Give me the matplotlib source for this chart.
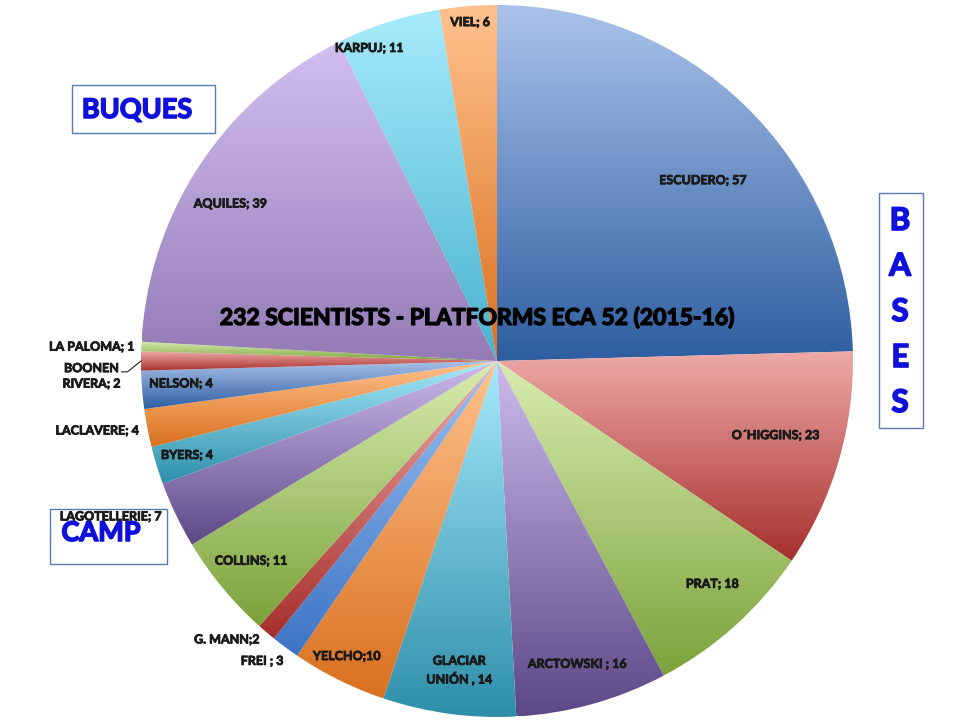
import numpy as np
import matplotlib
matplotlib.use("Agg")
import matplotlib.pyplot as plt
import matplotlib.patheffects as pe
from matplotlib.colors import LinearSegmentedColormap
from matplotlib.patches import Rectangle

plt.rcParams['font.family'] = ['Lato', 'DejaVu Sans']

# data, clockwise from 12 o'clock
platforms = ['ESCUDERO', 'O\u00b4HIGGINS', 'PRAT', 'ARCTOWSKI ', 'GLACIAR\nUNI\u00d3N ', 'YELCHO',
             'FREI ', 'G. MANN', 'COLLINS', 'LAGOTELLERIE', 'BYERS', 'LACLAVERE',
             'NELSON', 'BOONEN\nRIVERA', 'LA PALOMA', 'AQUILES', 'KARPUJ', 'VIEL']
scientists = [57, 23, 18, 16, 14, 10, 3, 2, 11, 7, 4, 4, 4, 2, 1, 39, 11, 6]
separators = ['; ', '; ', '; ', '; ', ', ', ';', '; ', ';', '; ', '; ', '; ', '; ',
              '; ', '; ', '; ', '; ', '; ', '; ']
title = '232 SCIENTISTS - PLATFORMS ECA 52 (2015-16)'

# label placement: (radius fraction, angle shift in degrees)
label_r = [0.77, 0.81, 0.87, 0.88, 0.875, 0.93, 1.07, 1.09, 0.89, 1.17, 0.91, 1.14,
           0.89, 1.14, 1.14, 0.87, 0.95, 0.955]
label_shift = [-4.5, 1.4, 2.1, -0.7, 0.8, -0.6, -1.6, -3.8, -0.5, -3.7, -0.2, -1.0,
               -0.6, 2.1, 0.3, 2.8, 4.4, -0.1]

# office palette as (light top, dark bottom) gradient pairs
palette = [('#A9C2EA', '#2E5EA0'),   # blue
           ('#EEAAA8', '#A62F2C'),   # red
           ('#D8ECB0', '#7BA23A'),   # green
           ('#CDBBEC', '#5D4887'),   # purple
           ('#A6E9FB', '#2E8EAA'),   # aqua
           ('#FFC28E', '#D9701E')]   # orange
slice_colors = [palette[i % 6] for i in range(len(scientists))]
slice_colors[platforms.index('AQUILES')] = ('#D2BEF0', '#947BB6')
slice_colors[platforms.index('KARPUJ')] = ('#A6EBFC', '#4AB2CE')
slice_colors[platforms.index('FREI ')] = ('#9CC0F2', '#3C74C4')

W, H = 960, 720
cx, cy, R = 497, H - 361, 356


def bold(lw, color):
    return [pe.withStroke(linewidth=lw, foreground=color)]


fig = plt.figure(figsize=(9.6, 7.2), dpi=100)
ax = fig.add_axes([0, 0, 1, 1])

wedges, _ = ax.pie(scientists, startangle=90, counterclock=False,
                   center=(cx, cy), radius=R, frame=True)

grad = np.linspace(0, 1, 256).reshape(-1, 1)
for i, w in enumerate(wedges):
    light, dark = slice_colors[i]
    verts = w.get_path().vertices
    x0, y0 = verts.min(axis=0)
    x1, y1 = verts.max(axis=0)
    cmap = LinearSegmentedColormap.from_list('g%d' % i, [dark, light])
    im = ax.imshow(grad, extent=(x0, x1, y0, y1), origin='lower', cmap=cmap,
                   aspect='auto', zorder=1, interpolation='bilinear')
    im.set_clip_path(w)
    w.set_facecolor('none')
    w.set_edgecolor('none')

    mid = np.deg2rad((w.theta1 + w.theta2) / 2 + label_shift[i])
    tx = cx + label_r[i] * R * np.cos(mid)
    ty = cy + label_r[i] * R * np.sin(mid)
    ax.text(tx, ty, platforms[i] + separators[i] + str(scientists[i]),
            ha='center', va='center', fontsize=9, fontweight='bold',
            color='#1a1a1a', linespacing=1.35, zorder=5,
            path_effects=bold(0.6, '#1a1a1a'))

    if platforms[i].startswith('BOONEN'):
        mid0 = np.deg2rad((w.theta1 + w.theta2) / 2)
        ex, ey = cx + R * np.cos(mid0), cy + R * np.sin(mid0)
        ax.plot([tx + 30, tx + 36, ex], [ty + 4, ty + 4, ey],
                color='#222222', lw=0.8, zorder=5)

ax.text(cx - 20, H - 318, title, ha='center', va='center', fontsize=16.5,
        fontweight='bold', color='black', zorder=6, path_effects=bold(1.0, 'black'))

blue = '#1010DC'
box_edge = '#5B7BB4'
# BUQUES box
ax.add_patch(Rectangle((72, H - 133), 143, 48, fill=True, facecolor='white',
                       edgecolor=box_edge, lw=1, zorder=4))
ax.text(137, H - 110, 'BUQUES', ha='center', va='center', fontsize=19.5,
        fontweight='bold', color=blue, zorder=6, path_effects=bold(1.1, blue))
# BASES box
ax.add_patch(Rectangle((879, H - 428), 44, 235, fill=True, facecolor='white',
                       edgecolor=box_edge, lw=1, zorder=4))
for k, ch in enumerate('BASES'):
    ax.text(900, H - 221 - k * 45.5, ch, ha='center', va='center', fontsize=22.5,
            fontweight='bold', color=blue, zorder=6, path_effects=bold(1.2, blue))
# CAMP box
ax.add_patch(Rectangle((50, H - 564), 117, 55, fill=True, facecolor='white',
                       edgecolor=box_edge, lw=1, zorder=4))
ax.text(101, H - 533, 'CAMP', ha='center', va='center', fontsize=19.5,
        fontweight='bold', color=blue, zorder=4.5, path_effects=bold(1.1, blue))

ax.set_xlim(0, W)
ax.set_ylim(0, H)
ax.set_axis_off()

fig.savefig('out.png', dpi=100)
